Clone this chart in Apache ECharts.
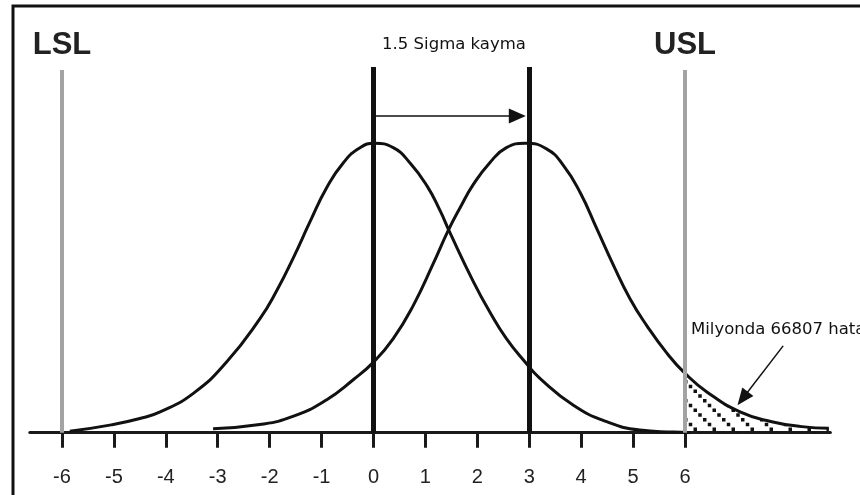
<!DOCTYPE html>
<html>
<head>
<meta charset="utf-8">
<script src="https://cdn.jsdelivr.net/npm/echarts@6/dist/echarts.min.js"></script>
<style>
html, body { margin: 0; padding: 0; background: #fff; }
#main { width: 860px; height: 495px; }
</style>
</head>
<body>
<div id="main"></div>
<script>
// eksen etiketleri
var tickValues = [-6, -5, -4, -3, -2, -1, 0, 1, 2, 3, 4, 5, 6];

// ortalamasi 0 olan dagilim (tepe = 100)
var curveX1 = [-5.85, -5.05, -4.5, -4.11, -3.47, -2.83, -2.19, -1.86, -1.54, -1.22, -0.9, -0.58, -0.26, 0.02, 0.38, 0.7, 1.03, 1.28, 1.47, 1.92, 2.24, 2.56, 2.92, 3.21, 3.85, 4.49, 5.13, 5.77, 6.1];
var curveY1 = [0.5, 2.7, 4.9, 7.2, 13.6, 24.4, 39.3, 49.2, 60.6, 73, 84.7, 93.3, 98.5, 100, 98.5, 93.3, 85.3, 76.8, 69.2, 52.3, 41.7, 32.5, 24.4, 18.7, 9.5, 3.8, 0.9, 0.2, 0];

// 1.5 sigma kaymis dagilim
var curveX2 = [-3.09, -2.19, -1.54, -0.9, -0.39, 0, 0.38, 0.77, 1.15, 1.44, 1.67, 1.92, 2.24, 2.56, 2.92, 3.34, 3.66, 3.98, 4.3, 4.62, 4.94, 5.26, 5.65, 6.0, 6.42, 7.06, 7.67, 8.25, 8.77];
var curveY2 = [1.4, 2.8, 5.7, 11.4, 18.3, 24.4, 32.5, 44.1, 58.4, 69.9, 77.8, 85.7, 93.3, 98.5, 100, 98, 92.3, 83, 70.5, 57.9, 46.3, 37.1, 27.5, 20.5, 14.1, 7.2, 3.8, 2.1, 1.5];

var meanX = [0, 3];          // ortalama cizgileri
var limitX = [-6, 6];        // LSL / USL
var limitNames = ['LSL', 'USL'];
var shiftLabel = '1.5 Sigma kayma';
var defectLabel = 'Milyonda 66807 hata';

var chart = echarts.init(document.getElementById('main'));

function pairs(xs, ys) {
    return xs.map(function (x, i) { return [x, ys[i]]; });
}

// tarali alan icin desen
function hatchPattern() {
    var c = document.createElement('canvas');
    c.width = 19; c.height = 19;
    var ctx = c.getContext('2d');
    ctx.fillStyle = '#111';
    for (var i = 0; i < 4; i++) {
        ctx.fillRect(i * 4.75, i * 4.75, 3.5, 3.5);
    }
    return c;
}

var tail = pairs(curveX2, curveY2).filter(function (p) { return p[0] >= limitX[1]; });

var option = {
    animation: false,
    grid: { left: 29.8, right: 29.6, top: 56.5, bottom: 62.3 },
    xAxis: {
        type: 'value',
        min: -6.62,
        max: 8.8,
        splitLine: { show: false },
        axisLine: { lineStyle: { color: '#1a1a1a', width: 3 } },
        axisTick: { customValues: tickValues, length: 15, lineStyle: { color: '#1a1a1a', width: 3 } },
        axisLabel: {
            customValues: tickValues, margin: 35, fontSize: 20, color: '#222',
            fontFamily: 'Liberation Sans'
        }
    },
    yAxis: { type: 'value', min: 0, max: 130, show: false },
    graphic: [
        { type: 'rect', shape: { x: 13, y: 6, width: 900, height: 600 }, style: { fill: null, stroke: '#111', lineWidth: 3 }, silent: true },
        { type: 'text', x: 454, y: 45, style: { text: shiftLabel, font: '16.5px "DejaVu Sans"', fill: '#111', align: 'center', verticalAlign: 'middle' } },
        { type: 'text', x: 691, y: 330, style: { text: defectLabel, font: '16.5px "DejaVu Sans"', fill: '#111', align: 'left', verticalAlign: 'middle' } }
    ],
    series: [
        {
            // tarali kuyruk
            type: 'line',
            data: tail,
            smooth: 0.5,
            showSymbol: false,
            lineStyle: { width: 0 },
            areaStyle: { color: { image: hatchPattern(), repeat: 'repeat' }, opacity: 1 },
            z: 1
        },
        {
            type: 'line',
            data: pairs(curveX1, curveY1),
            smooth: 0.5,
            showSymbol: false,
            lineStyle: { color: '#111', width: 3 },
            z: 3,
            markLine: {
                silent: true,
                symbol: 'none',
                data: limitX.map(function (x, i) {
                    return [
                        { coord: [x, 0], name: limitNames[i] },
                        { coord: [x, 125.3] }
                    ];
                }),
                lineStyle: { color: '#a3a3a3', width: 4, type: 'solid' },
                label: {
                    show: true, position: 'end', formatter: '{b}', distance: 9,
                    fontSize: 31, fontWeight: 'bold', color: '#222', fontFamily: 'Liberation Sans'
                }
            }
        },
        {
            type: 'line',
            data: pairs(curveX2, curveY2),
            smooth: 0.5,
            showSymbol: false,
            lineStyle: { color: '#111', width: 3 },
            z: 3,
            markLine: {
                silent: true,
                symbol: 'none',
                label: { show: false },
                data: meanX.map(function (x) {
                    return [{ coord: [x, 0] }, { coord: [x, 126.4] }];
                }).concat([
                    [
                        { coord: [meanX[0], 109.4], lineStyle: { width: 1.5 }, symbol: 'none' },
                        { coord: [2.77, 109.4], symbol: 'triangle', symbolSize: [15, 17] }
                    ],
                    [
                        { coord: [7.89, 30], lineStyle: { width: 1.5 }, symbol: 'none' },
                        { coord: [7.11, 11.8], symbol: 'triangle', symbolSize: [14, 17] }
                    ]
                ]),
                lineStyle: { color: '#111', width: 5, type: 'solid' }
            }
        }
    ]
};

chart.setOption(option);
</script>
</body>
</html>
